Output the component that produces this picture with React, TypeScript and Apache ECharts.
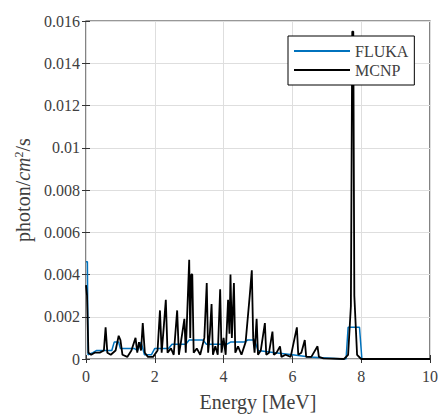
import React, { useEffect, useRef } from "react";
import * as echarts from "echarts";

// MCNP spectrum (energy in MeV, flux in photon/cm^2/s)
const mcnpEnergy = [
  0.0, 0.03, 0.07, 0.15, 0.25, 0.4, 0.52, 0.57, 0.62, 0.72, 0.86, 0.95, 1.0, 1.06, 1.2,
  1.32, 1.44, 1.49, 1.54, 1.6, 1.65, 1.71, 1.8, 1.95, 2.08, 2.15, 2.2, 2.26, 2.32, 2.37,
  2.47, 2.55, 2.65, 2.7, 2.76, 2.86, 2.9, 2.95, 3.0, 3.03, 3.06, 3.09, 3.13, 3.22, 3.32,
  3.44, 3.51, 3.55, 3.6, 3.65, 3.69, 3.76, 3.83, 3.9, 3.94, 4.0, 4.06, 4.13, 4.17, 4.2,
  4.24, 4.3, 4.34, 4.42, 4.52, 4.64, 4.76, 4.82, 4.86, 4.9, 4.96, 5.0, 5.08, 5.2, 5.24,
  5.32, 5.42, 5.46, 5.54, 5.64, 5.68, 5.8, 5.95, 6.13, 6.17, 6.26, 6.36, 6.4, 6.55, 6.73,
  6.77, 6.9, 7.5, 7.62, 7.7, 7.74, 7.77, 7.8, 7.88, 8.0, 10.0,
];
const mcnpFlux = [
  0.0035, 0.003, 0.0003, 0.0002, 0.0003, 0.0003, 0.0004, 0.0015, 0.0003, 0.0002, 0.0004, 0.0011, 0.0009, 0.0002, 0.0001,
  0.0004, 0.001, 0.0003, 0.0008, 0.0004, 0.0017, 0.0003, 0.0001, 0.0001, 0.0004, 0.0023, 0.0003, 0.0015, 0.0028, 0.0003,
  0.0005, 0.0002, 0.0023, 0.0002, 0.0008, 0.0019, 0.0003, 0.0025, 0.0047, 0.001, 0.004, 0.004, 0.0003, 0.0005, 0.0002,
  0.001, 0.0036, 0.0003, 0.0012, 0.0026, 0.0002, 0.0006, 0.0002, 0.0033, 0.0003, 0.001, 0.0002, 0.0028, 0.0012, 0.004,
  0.001, 0.0036, 0.0003, 0.0006, 0.0002, 0.0008, 0.003, 0.0042, 0.001, 0.0003, 0.0019, 0.0002, 0.0004, 0.0017, 0.0002,
  0.0003, 0.0013, 0.0002, 0.0003, 0.0006, 0.0001, 0.0002, 0.0001, 0.0015, 0.0002, 0.0003, 0.0009, 0.0001, 0.0001, 0.0006,
  0.0001, 0.00003, 0.0, 0.0002, 0.0025, 0.0155, 0.0155, 0.003, 0.0002, 0.0, 0.0,
];

// FLUKA spectrum
const flukaEnergy = [
  0.0, 0.04, 0.06, 0.2, 0.3, 0.75, 0.82, 0.95, 1.0, 1.4, 1.5, 1.6, 1.7, 1.9, 2.0,
  2.4, 2.5, 2.9, 3.0, 3.4, 3.5, 4.1, 4.2, 4.6, 4.7, 4.9, 5.0, 5.5, 6.0, 6.5,
  7.0, 7.5, 7.56, 7.62, 7.95, 8.02, 10.0,
];
const flukaFlux = [
  0.0046, 0.0046, 0.0002, 0.0003, 0.0004, 0.0004, 0.0008, 0.0008, 0.0005, 0.0005, 0.0004, 0.0008, 0.0002, 0.0002, 0.0005,
  0.0005, 0.0007, 0.0007, 0.0009, 0.0009, 0.0007, 0.0007, 0.0008, 0.0008, 0.0009, 0.0009, 0.0004, 0.0003, 0.0002, 0.0001,
  0.00005, 0.0, 0.0, 0.0015, 0.0015, 0.0, 0.0,
];

const xTicks = { min: 0, max: 10, interval: 2 };
const yTicks = { min: 0, max: 0.016, interval: 0.002 };

const FONT = "Liberation Serif";
const AXIS_COLOR = "#333";
const TEXT_COLOR = "#404040";

export default function App() {
  const ref = useRef<HTMLDivElement>(null);
  useEffect(() => {
    if (!ref.current) return;
    const chart = echarts.init(ref.current, undefined, { renderer: "svg" });
    const mcnp = mcnpEnergy.map((e, i) => [e, mcnpFlux[i]]);
    const fluka = flukaEnergy.map((e, i) => [e, flukaFlux[i]]);
    const tick = { show: true, inside: true, length: 4, lineStyle: { color: AXIS_COLOR } };
    chart.setOption({
      animation: false,
      textStyle: { fontFamily: FONT },
      grid: {
        left: 86,
        right: 11,
        top: 21,
        bottom: 52,
        show: true,
        borderColor: AXIS_COLOR,
        borderWidth: 1.2,
        backgroundColor: "#fff",
      },
      legend: {
        orient: "vertical",
        left: 288,
        top: 36,
        padding: [7, 6, 7, 6],
        itemGap: 3,
        icon: "rect",
        itemWidth: 56,
        itemHeight: 2,
        backgroundColor: "#fff",
        borderColor: "#000",
        borderWidth: 1,
        textStyle: { fontFamily: FONT, fontSize: 16, color: TEXT_COLOR },
        data: ["FLUKA", "MCNP"],
      },
      xAxis: [
        {
          type: "value",
          ...xTicks,
          position: "bottom",
          axisLine: { show: false },
          axisTick: tick,
          axisLabel: {
            fontFamily: FONT,
            fontSize: 16,
            color: TEXT_COLOR,
            margin: 9,
            formatter: "{v|{value}}",
            rich: { v: { fontFamily: FONT, fontSize: 16, color: TEXT_COLOR } },
          },
          splitLine: { show: true, lineStyle: { color: "#dedede", width: 1 } },
          name: "Energy [MeV]",
          nameLocation: "middle",
          nameGap: 33,
          nameTextStyle: { fontFamily: FONT, fontSize: 20, color: TEXT_COLOR },
        },
        {
          type: "value",
          ...xTicks,
          position: "top",
          axisLine: { show: false },
          axisTick: tick,
          axisLabel: { show: false },
          splitLine: { show: false },
        },
      ],
      yAxis: [
        {
          type: "value",
          ...yTicks,
          position: "left",
          axisLine: { show: false },
          axisTick: tick,
          axisLabel: {
            fontFamily: FONT,
            fontSize: 16,
            color: TEXT_COLOR,
            margin: 6,
            formatter: (v: number) => "{v|" + String(parseFloat(v.toFixed(3))) + "}",
            rich: { v: { fontFamily: FONT, fontSize: 16, color: TEXT_COLOR } },
          },
          splitLine: { show: true, lineStyle: { color: "#dedede", width: 1 } },
          name: "{a|photon/}{b|cm}{c|2}{a|/s}",
          nameLocation: "middle",
          nameGap: 52,
          nameTextStyle: {
            color: TEXT_COLOR,
            fontFamily: FONT,
            rich: {
              a: { fontFamily: FONT, fontSize: 20, color: TEXT_COLOR },
              b: { fontFamily: FONT, fontSize: 20, fontStyle: "italic", color: TEXT_COLOR },
              c: { fontFamily: FONT, fontSize: 12, color: TEXT_COLOR, padding: [0, 0, 9, 0] },
            },
          },
        },
        {
          type: "value",
          ...yTicks,
          position: "right",
          axisLine: { show: false },
          axisTick: tick,
          axisLabel: { show: false },
          splitLine: { show: false },
        },
      ],
      series: [
        {
          name: "FLUKA",
          type: "line",
          data: fluka,
          showSymbol: false,
          symbol: "none",
          lineStyle: { color: "#0072BD", width: 1.5 },
          itemStyle: { color: "#0072BD" },
          z: 2,
        },
        {
          name: "MCNP",
          type: "line",
          data: mcnp,
          showSymbol: false,
          symbol: "none",
          lineStyle: { color: "#000", width: 1.8 },
          itemStyle: { color: "#000" },
          z: 3,
        },
      ],
    });
    return () => chart.dispose();
  }, []);
  return (
    <div
      ref={ref}
      style={{ position: "fixed", left: 0, top: 0, width: 441, height: 417, background: "#fff" }}
    />
  );
}
